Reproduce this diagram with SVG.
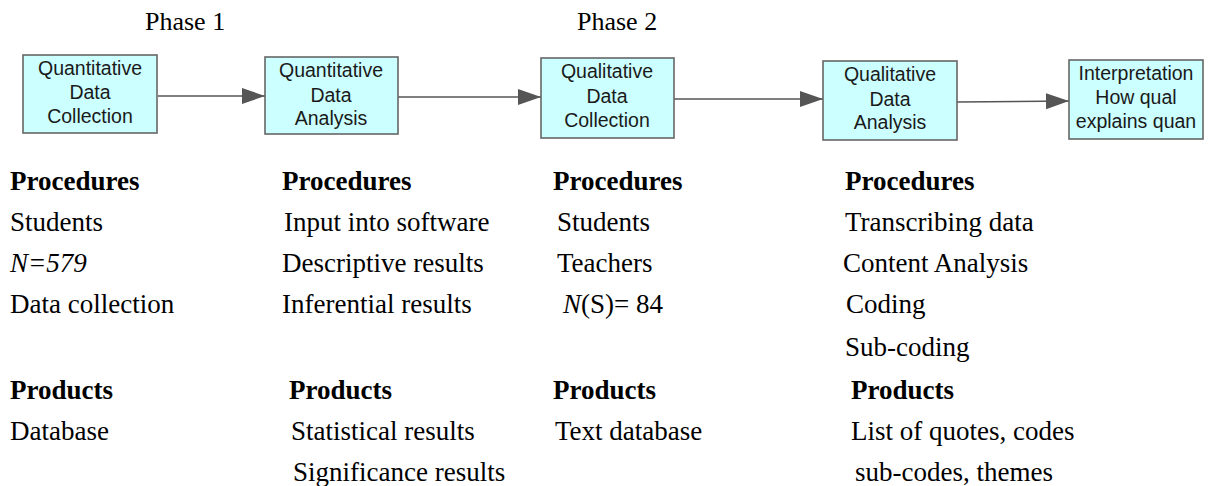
<svg xmlns="http://www.w3.org/2000/svg" width="1210" height="486" viewBox="0 0 1210 486">
<style>
.box{fill:#ccffff;stroke:#666;stroke-width:1.6}
.bt{font-family:"Liberation Sans",Arial,sans-serif;font-size:19.5px;fill:#1a1a1a;text-anchor:middle}
.t{font-family:"Liberation Serif","Times New Roman",serif;font-size:27px;fill:#000}
.ph{font-size:26px}
.b{font-weight:bold}
.ln{stroke:#555;stroke-width:1.6;fill:none}
</style>
<defs>
<marker id="ah" markerWidth="24" markerHeight="18" refX="23" refY="8" orient="auto" markerUnits="userSpaceOnUse">
<path d="M0,0 L23,8 L0,16 Z" fill="#555"/>
</marker>
</defs>
<rect width="1210" height="486" fill="#fff"/>
<text class="t ph" x="145" y="30">Phase 1</text>
<text class="t ph" x="577" y="30">Phase 2</text>
<g id="connectors">
<line class="ln" x1="158" y1="96" x2="265" y2="96" marker-end="url(#ah)"/>
<line class="ln" x1="398" y1="97" x2="541" y2="97" marker-end="url(#ah)"/>
<line class="ln" x1="674" y1="99" x2="823" y2="99" marker-end="url(#ah)"/>
<line class="ln" x1="957" y1="102" x2="1069" y2="101" stroke-width="3" marker-end="url(#ah)"/>
</g>
<g id="n1">
<rect class="box" x="23" y="55" width="134" height="78"/>
<text class="bt" x="90" y="75">Quantitative</text>
<text class="bt" x="90" y="99">Data</text>
<text class="bt" x="90" y="123">Collection</text>
</g>
<g id="n2">
<rect class="box" x="265" y="57" width="133" height="77"/>
<text class="bt" x="331" y="77">Quantitative</text>
<text class="bt" x="331" y="102">Data</text>
<text class="bt" x="331" y="125">Analysis</text>
</g>
<g id="n3">
<rect class="box" x="541" y="58" width="133" height="80"/>
<text class="bt" x="607" y="78">Qualitative</text>
<text class="bt" x="607" y="103">Data</text>
<text class="bt" x="607" y="127">Collection</text>
</g>
<g id="n4">
<rect class="box" x="823" y="61" width="134" height="79"/>
<text class="bt" x="890" y="81">Qualitative</text>
<text class="bt" x="890" y="106">Data</text>
<text class="bt" x="890" y="129">Analysis</text>
</g>
<g id="n5">
<rect class="box" x="1069" y="60" width="134" height="79"/>
<text class="bt" x="1136" y="80">Interpretation</text>
<text class="bt" x="1136" y="104">How qual</text>
<text class="bt" x="1136" y="128">explains quan</text>
</g>
<g id="col1">
<text class="t b" x="10" y="190">Procedures</text>
<text class="t" x="10" y="231">Students</text>
<text class="t" x="10" y="272"><tspan font-style="italic">N=579</tspan></text>
<text class="t" x="10" y="313">Data collection</text>
<text class="t b" x="10" y="399">Products</text>
<text class="t" x="10" y="440">Database</text>
</g>
<g id="col2">
<text class="t b" x="282" y="190">Procedures</text>
<text class="t" x="284" y="231">Input into software</text>
<text class="t" x="282" y="272">Descriptive results</text>
<text class="t" x="282" y="313">Inferential results</text>
<text class="t b" x="289" y="399">Products</text>
<text class="t" x="291" y="440">Statistical results</text>
<text class="t" x="293" y="481">Significance results</text>
</g>
<g id="col3">
<text class="t b" x="553" y="190">Procedures</text>
<text class="t" x="557" y="231">Students</text>
<text class="t" x="557" y="272">Teachers</text>
<text class="t" x="563" y="313"><tspan font-style="italic">N</tspan>(S)= 84</text>
<text class="t b" x="553" y="399">Products</text>
<text class="t" x="555" y="440">Text database</text>
</g>
<g id="col4">
<text class="t b" x="845" y="190">Procedures</text>
<text class="t" x="845" y="231">Transcribing data</text>
<text class="t" x="843" y="272">Content Analysis</text>
<text class="t" x="846" y="313">Coding</text>
<text class="t" x="845" y="356">Sub-coding</text>
<text class="t b" x="851" y="399">Products</text>
<text class="t" x="851" y="440">List of quotes, codes</text>
<text class="t" x="855" y="481">sub-codes, themes</text>
</g>
</svg>
